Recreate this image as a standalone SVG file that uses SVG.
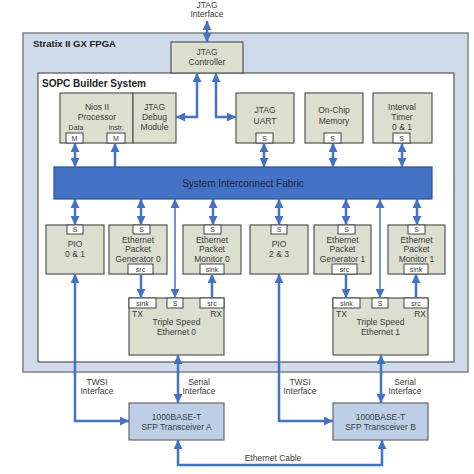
<svg xmlns="http://www.w3.org/2000/svg" width="474" height="474" viewBox="0 0 474 474">
<defs>
<marker id="ah" markerUnits="userSpaceOnUse" markerWidth="9" markerHeight="9" refX="8" refY="4" orient="auto-start-reverse" viewBox="0 0 8 8"><path d="M0,0 L8,4 L0,8 z" fill="#4472c4"/></marker>
<style>
text{font-family:"Liberation Sans",Arial,sans-serif;fill:#3a3a3a;font-size:8.5px;text-anchor:middle}
.b{font-weight:bold;text-anchor:start;font-size:9.5px;fill:#222}
.node{fill:#dcdfcf;stroke:#555;stroke-width:1.2}
.port{fill:#fff;stroke:#444;stroke-width:1}
.pt{font-size:7px}
.xcv{fill:#bccfe6;stroke:#666;stroke-width:1.2}
.c{fill:none;stroke:#4472c4;stroke-width:2.5}
.t{fill:none;stroke:#4472c4;stroke-width:1.5}
.both{marker-start:url(#ah);marker-end:url(#ah)}
.end{marker-end:url(#ah)}
</style>
</defs>
<rect width="474" height="474" fill="#fff"/>
<g id="fpga"><rect x="23" y="33" width="445" height="339" fill="#cfdaea" stroke="#808080" stroke-width="1.5"/><text class="b" x="33" y="47">Stratix II GX FPGA</text></g>
<g id="sopc"><rect x="38" y="73" width="416" height="289" fill="#fff" stroke="#555" stroke-width="1.2"/><text class="b" x="42" y="87" style="font-size:10px">SOPC Builder System</text></g>
<g id="jtagctrl"><rect class="node" x="171" y="42" width="72" height="31"/><text x="207" y="55">JTAG</text><text x="207" y="65">Controller</text></g>
<g id="jtagif"><text x="207" y="8">JTAG</text><text x="207" y="17">Interface</text></g>
<g id="nios"><rect class="node" x="60" y="93" width="73" height="50"/><text x="97" y="110">Nios II</text><text x="97" y="120">Processor</text><text x="76" y="130" class="pt">Data</text><text x="116" y="130" class="pt">Instr.</text>
<rect class="port" x="66" y="133" width="17" height="10"/><text x="74.5" y="141" class="pt">M</text><rect class="port" x="107" y="133" width="18" height="10"/><text x="116" y="141" class="pt">M</text></g>
<g id="jtagdebug"><rect class="node" x="133" y="93" width="43" height="50"/><text x="154.5" y="110">JTAG</text><text x="154.5" y="120">Debug</text><text x="154.5" y="130">Module</text></g>
<g id="jtaguart"><rect class="node" x="236" y="93" width="58" height="50"/><text x="265" y="113">JTAG</text><text x="265" y="124">UART</text><rect class="port" x="256" y="133" width="17" height="10"/><text x="264.5" y="141" class="pt">S</text></g>
<g id="memory"><rect class="node" x="305" y="93" width="58" height="50"/><text x="334" y="113">On-Chip</text><text x="334" y="124">Memory</text><rect class="port" x="324" y="133" width="17" height="10"/><text x="332.5" y="141" class="pt">S</text></g>
<g id="timer"><rect class="node" x="373" y="93" width="59" height="50"/><text x="402" y="110">Interval</text><text x="402" y="120">Timer</text><text x="402" y="130">0 &amp; 1</text><rect class="port" x="393" y="133" width="17" height="10"/><text x="401.5" y="141" class="pt">S</text></g>
<g id="fabric"><rect x="54" y="167" width="378" height="32" fill="#4472c4" stroke="#2f528f" stroke-width="1.2"/><text x="243" y="186.5" style="font-size:10px;fill:#1a2740">System Interconnect Fabric</text></g>
<g id="pio01"><rect class="node" x="46" y="225" width="58" height="49"/><rect class="port" x="67" y="225" width="16" height="9"/><text x="75" y="232" class="pt">S</text><text x="75" y="247">PIO</text><text x="75" y="257">0 &amp; 1</text></g>
<g id="epg0"><rect class="node" x="109" y="225" width="58" height="49"/><rect class="port" x="133" y="225" width="17" height="9"/><text x="141.5" y="232" class="pt">S</text><text x="138" y="243">Ethernet</text><text x="138" y="252">Packet</text><text x="138" y="262">Generator 0</text><rect class="port" x="128" y="264" width="25" height="10"/><text x="140.5" y="271.5" class="pt">src</text></g>
<g id="epm0"><rect class="node" x="183" y="225" width="58" height="49"/><rect class="port" x="204" y="225" width="17" height="9"/><text x="212.5" y="232" class="pt">S</text><text x="212" y="243">Ethernet</text><text x="212" y="252">Packet</text><text x="212" y="262">Monitor 0</text><rect class="port" x="200" y="264" width="24" height="10"/><text x="212" y="271.5" class="pt">sink</text></g>
<g id="pio23"><rect class="node" x="250" y="225" width="58" height="49"/><rect class="port" x="271" y="225" width="16" height="9"/><text x="279" y="232" class="pt">S</text><text x="279" y="247">PIO</text><text x="279" y="257">2 &amp; 3</text></g>
<g id="epg1"><rect class="node" x="314" y="225" width="57" height="49"/><rect class="port" x="338" y="225" width="17" height="9"/><text x="346.5" y="232" class="pt">S</text><text x="342.5" y="243">Ethernet</text><text x="342.5" y="252">Packet</text><text x="342.5" y="262">Generator 1</text><rect class="port" x="332" y="264" width="25" height="10"/><text x="344.5" y="271.5" class="pt">src</text></g>
<g id="epm1"><rect class="node" x="388" y="225" width="57" height="49"/><rect class="port" x="408" y="225" width="17" height="9"/><text x="416.5" y="232" class="pt">S</text><text x="416.5" y="243">Ethernet</text><text x="416.5" y="252">Packet</text><text x="416.5" y="262">Monitor 1</text><rect class="port" x="404" y="264" width="24" height="10"/><text x="416" y="271.5" class="pt">sink</text></g>
<g id="tse0"><rect class="node" x="129" y="298" width="95" height="57"/><rect class="port" x="129" y="298" width="27" height="10"/><text x="142.5" y="305.5" class="pt">sink</text><rect class="port" x="167" y="298" width="16" height="10"/><text x="175" y="305.5" class="pt">S</text><rect class="port" x="200" y="298" width="24" height="10"/><text x="212" y="305.5" class="pt">src</text><text x="132" y="317" style="text-anchor:start">TX</text><text x="222" y="317" style="text-anchor:end">RX</text><text x="176.5" y="325">Triple Speed</text><text x="176.5" y="335">Ethernet 0</text></g>
<g id="tse1"><rect class="node" x="333" y="298" width="95" height="57"/><rect class="port" x="333" y="298" width="27" height="10"/><text x="346.5" y="305.5" class="pt">sink</text><rect class="port" x="372" y="298" width="16" height="10"/><text x="380" y="305.5" class="pt">S</text><rect class="port" x="404" y="298" width="24" height="10"/><text x="416" y="305.5" class="pt">src</text><text x="336" y="317" style="text-anchor:start">TX</text><text x="426" y="317" style="text-anchor:end">RX</text><text x="380.5" y="325">Triple Speed</text><text x="380.5" y="335">Ethernet 1</text></g>
<g id="xcvA"><rect class="xcv" x="129" y="403" width="95" height="37"/><text x="176.5" y="420">1000BASE-T</text><text x="176.5" y="430">SFP Transceiver A</text></g>
<g id="xcvB"><rect class="xcv" x="333" y="403" width="95" height="37"/><text x="380.5" y="420">1000BASE-T</text><text x="380.5" y="430">SFP Transceiver B</text></g>
<g id="labels"><text x="97" y="385">TWSI</text><text x="97" y="394">Interface</text><text x="199" y="385">Serial</text><text x="199" y="394">Interface</text><text x="300" y="385">TWSI</text><text x="300" y="394">Interface</text><text x="405" y="385">Serial</text><text x="405" y="394">Interface</text><text x="273" y="461">Ethernet Cable</text></g>
<g id="connectors">
<path class="c both" d="M207,21 V42"/>
<path class="c both" d="M197,73 V117 H176"/>
<path class="c both" d="M216,73 V117 H236"/>
<path class="c both" d="M75,143 V167"/>
<path class="c end" d="M115,167 V143"/>
<path class="c both" d="M264,143 V167"/>
<path class="c both" d="M333,143 V167"/>
<path class="c both" d="M402,143 V167"/>
<path class="c both" d="M75,199 V225"/>
<path class="c both" d="M141,199 V225"/>
<path class="c both" d="M213,199 V225"/>
<path class="c both" d="M279,199 V225"/>
<path class="c both" d="M346,199 V225"/>
<path class="c both" d="M417,199 V225"/>
<path class="t both" d="M175,199 V298"/>
<path class="t both" d="M380,199 V298"/>
<path class="c end" d="M141,274 V298"/>
<path class="c end" d="M346,274 V298"/>
<path class="c end" d="M212,298 V274"/>
<path class="c end" d="M416,298 V274"/>
<path class="c both" d="M75,274 V421 H129"/>
<path class="c both" d="M279,274 V421 H333"/>
<path class="c both" d="M178,355 V403"/>
<path class="c both" d="M381,355 V403"/>
<path class="c both" d="M178,440 V465 H382 V440"/>
</g>
</svg>
